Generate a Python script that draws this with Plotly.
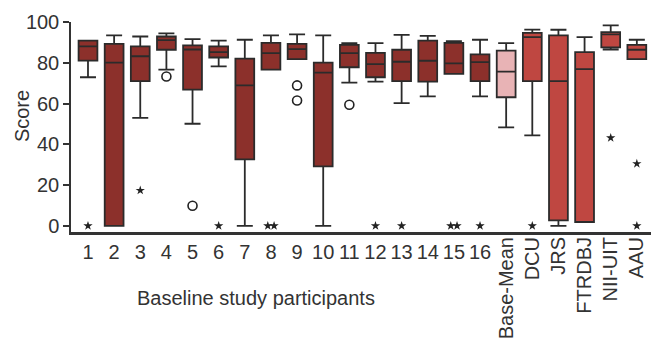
import plotly.graph_objects as go

categories = ["1", "2", "3", "4", "5", "6", "7", "8", "9", "10", "11", "12", "13", "14", "15", "16",
              "Base-Mean", "DCU", "JRS", "FTRDBJ", "NII-UIT", "AAU"]

lower = [72.9, 0, 53, 76.6, 50.1, 78.2, 0, 76.6, 81.8, 0, 70.3, 70.8, 60.2, 63.5, 74.6, 63.5,
         48.3, 44.4, 0, 1.9, 86.5, 81.8]
q1 = [81.1, 0, 71, 86.4, 66.8, 82.6, 32.6, 76.6, 81.8, 29.2, 77.8, 72.9, 71, 70.8, 74.6, 71,
      63.1, 71, 2.7, 1.9, 87.6, 81.8]
median = [88, 80.1, 83.2, 91.1, 86.5, 85.2, 68.9, 84.7, 86.7, 75.2, 84.7, 79.3, 80.5, 81, 79.7, 80.3,
          75.7, 92.6, 71, 76.9, 93.9, 86.4]
q3 = [90.9, 89.3, 88, 92.9, 88.5, 88, 82, 89.8, 89.3, 80.1, 88.8, 84.9, 86.4, 90.9, 89.8, 84.1,
      86, 94.7, 93.4, 85.2, 95, 88.8]
upper = [90.9, 93.4, 92.9, 94.4, 91.6, 90.9, 91.3, 93.4, 93.9, 93.4, 89.6, 89.6, 93.7, 93.2, 90.6, 91.3,
         89.6, 96.3, 96.2, 92.6, 98.3, 91.3]

# extreme outliers (stars) and outliers (circles): category index, value
star_cat = [0, 2, 5, 7, 7, 11, 12, 14, 14, 15, 17, 20, 21, 21]
star_val = [0, 17.4, 0, 0, 0, 0, 0, 0, 0, 0, 0, 43.2, 30.5, 0]
circle_cat = [3, 4, 8, 8, 10]
circle_val = [73.3, 9.9, 68.9, 61.5, 59.4]

groups = [
    (list(range(0, 16)), "#8c302b"),
    ([16], "#e8b3b5"),
    (list(range(17, 22)), "#bf4741"),
]

fig = go.Figure()
for idx, color in groups:
    fig.add_trace(go.Box(
        x=idx,
        q1=[q1[i] for i in idx],
        median=[median[i] for i in idx],
        q3=[q3[i] for i in idx],
        lowerfence=[lower[i] for i in idx],
        upperfence=[upper[i] for i in idx],
        width=0.72,
        whiskerwidth=0.85,
        fillcolor=color,
        line=dict(color="#2b2b2b", width=1.8),
        boxpoints=False,
        showlegend=False,
        hoverinfo="y",
    ))


def spread(cats, vals, step=0.24):
    xs = []
    for k, (c, v) in enumerate(zip(cats, vals)):
        dup = [j for j, (c2, v2) in enumerate(zip(cats, vals)) if c2 == c and v2 == v]
        n = len(dup)
        pos = dup.index(k)
        xs.append(c + (pos - (n - 1) / 2) * step)
    return xs


fig.add_trace(go.Scatter(
    x=spread(star_cat, star_val), y=star_val, mode="markers",
    marker=dict(symbol="star", size=7, color="#222222", line=dict(width=0)),
    showlegend=False, hoverinfo="y",
))
fig.add_trace(go.Scatter(
    x=spread(circle_cat, circle_val), y=circle_val, mode="markers",
    marker=dict(symbol="circle-open", size=9, color="#222222", line=dict(width=1.6)),
    showlegend=False, hoverinfo="y",
))
# invisible trace on xaxis2 so its tick labels render
fig.add_trace(go.Scatter(x=[16], y=[None], xaxis="x2", mode="markers",
                         showlegend=False, hoverinfo="skip"))

font = "Liberation Sans, Arial, sans-serif"
xr = [-0.65, 21.58]
# page body has an 8px margin, so the figure is 8px smaller than the window
fig.update_layout(
    width=651, height=344,
    margin=dict(l=63, r=7, t=14, b=120),
    paper_bgcolor="white", plot_bgcolor="white",
    boxmode="overlay",
    font=dict(family=font, size=20, color="#333333"),
    xaxis=dict(
        range=xr, tickmode="array",
        tickvals=list(range(16)), ticktext=categories[:16],
        tickangle=0, ticks="", showgrid=False, zeroline=False,
        showline=True, linecolor="#333333", linewidth=2.5,
        tickfont=dict(size=20, color="#333333"), automargin=False,
    ),
    xaxis2=dict(
        range=xr, overlaying="x", anchor="y", side="bottom",
        tickmode="array", tickvals=list(range(16, 22)), ticktext=categories[16:],
        tickangle=-90, ticks="", showgrid=False, zeroline=False, showline=False,
        tickfont=dict(size=20, color="#333333"), automargin=False,
    ),
    yaxis=dict(
        range=[-3, 100], tickmode="array", tickvals=[0, 20, 40, 60, 80, 100],
        ticks="outside", ticklen=6, tickwidth=1.5, tickcolor="#333333",
        showgrid=False, zeroline=False,
        showline=True, linecolor="#333333", linewidth=1.5,
        tickfont=dict(size=20, color="#333333"), automargin=False,
    ),
    annotations=[
        dict(text="Score", textangle=-90, xref="paper", yref="paper",
             x=-0.0843, y=0.552, xanchor="center", yanchor="middle",
             showarrow=False, font=dict(size=20, color="#333333")),
        dict(text="Baseline study participants", xref="paper", yref="paper",
             x=0.318, y=-0.314, xanchor="center", yanchor="middle",
             showarrow=False, font=dict(size=20, color="#333333")),
    ],
)

fig.write_html("out.html")
